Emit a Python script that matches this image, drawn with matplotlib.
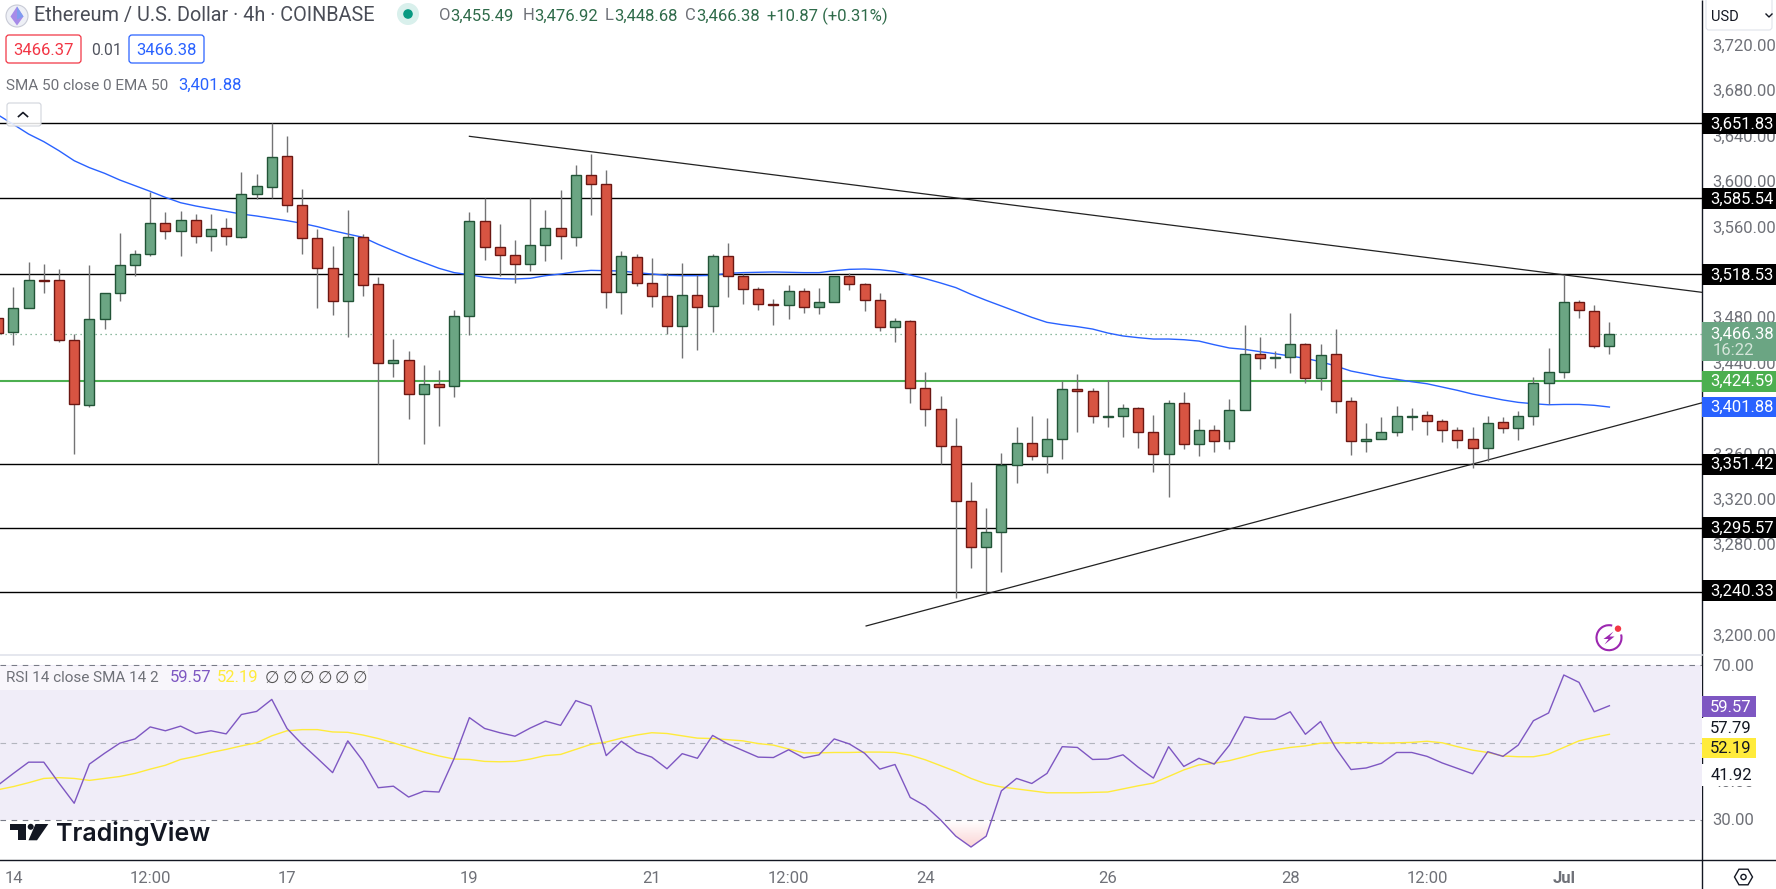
import numpy as np
import matplotlib
matplotlib.use("Agg")
import matplotlib.pyplot as plt
from matplotlib.patches import Rectangle, FancyBboxPatch, Circle, Polygon, Arc, RegularPolygon
from matplotlib.colors import LinearSegmentedColormap
from matplotlib.transforms import ScaledTranslation

plt.rcParams['font.family'] = ['Roboto', 'DejaVu Sans']

opens = [3480.0, 3467.7, 3488.8, 3513.6, 3513.5, 3460.7, 3403.4, 3479.2, 3502.1, 3526.7, 3536.4, 3563.7, 3556.7, 3566.4, 3552.3, 3559.3, 3552.0, 3589.3, 3595.4, 3622.8, 3579.6, 3550.5, 3524.1, 3495.0, 3551.4, 3510.0, 3440.4, 3443.0, 3413.1, 3421.9, 3420.1, 3481.8, 3565.5, 3542.6, 3535.5, 3527.6, 3544.4, 3559.3, 3552.0, 3606.0, 3598.1, 3503.5, 3533.8, 3510.9, 3499.4, 3473.0, 3500.3, 3490.6, 3534.7, 3517.0, 3505.6, 3492.5, 3491.5, 3503.8, 3489.7, 3494.1, 3517.0, 3510.0, 3495.9, 3472.1, 3477.4, 3418.3, 3399.8, 3367.2, 3318.8, 3278.2, 3291.5, 3350.5, 3369.9, 3358.4, 3373.4, 3417.5, 3415.7, 3393.5, 3393.7, 3400.7, 3379.6, 3360.2, 3405.1, 3369.0, 3381.3, 3371.6, 3399.0, 3448.3, 3445.5, 3445.7, 3457.1, 3427.2, 3448.3, 3406.9, 3371.6, 3373.4, 3379.6, 3393.5, 3394.5, 3389.2, 3381.3, 3373.4, 3365.5, 3388.4, 3383.1, 3393.7, 3422.7, 3432.4, 3494.1, 3486.2, 3455.49]
closes = [3467.4, 3488.8, 3513.5, 3513.2, 3460.7, 3404.3, 3479.2, 3502.1, 3526.7, 3536.4, 3563.7, 3556.7, 3566.4, 3552.3, 3558.5, 3552.3, 3589.3, 3596.3, 3621.9, 3579.6, 3550.5, 3524.1, 3495.0, 3551.4, 3509.1, 3440.4, 3443.0, 3413.1, 3421.9, 3419.8, 3481.8, 3565.5, 3542.6, 3535.5, 3527.6, 3544.4, 3559.3, 3552.3, 3606.0, 3598.1, 3503.5, 3534.7, 3510.9, 3499.4, 3473.0, 3500.3, 3489.7, 3534.7, 3517.0, 3505.6, 3492.4, 3492.2, 3503.8, 3489.7, 3494.1, 3517.0, 3510.0, 3495.9, 3472.1, 3477.4, 3418.3, 3399.8, 3367.2, 3318.8, 3278.2, 3291.5, 3350.5, 3369.9, 3358.4, 3373.4, 3417.5, 3415.7, 3393.7, 3393.9, 3400.7, 3379.6, 3360.2, 3405.1, 3369.0, 3381.3, 3371.6, 3399.0, 3448.3, 3444.8, 3445.9, 3457.1, 3427.2, 3447.4, 3406.9, 3371.6, 3373.4, 3379.6, 3393.7, 3393.9, 3389.2, 3381.3, 3372.5, 3365.5, 3387.5, 3383.1, 3393.7, 3422.7, 3432.4, 3494.1, 3487.1, 3455.3, 3466.38]
highs = [3496.0, 3507.4, 3529.7, 3527.9, 3523.5, 3465.9, 3527.0, 3502.1, 3555.2, 3540.2, 3591.6, 3573.7, 3574.6, 3572.0, 3572.0, 3568.4, 3608.7, 3607.2, 3651.8, 3640.7, 3593.7, 3558.4, 3543.8, 3575.5, 3554.3, 3516.2, 3461.5, 3451.2, 3438.9, 3434.5, 3487.4, 3573.4, 3585.8, 3563.2, 3549.1, 3585.8, 3575.5, 3593.1, 3615.1, 3624.8, 3610.7, 3539.4, 3536.7, 3533.2, 3520.0, 3528.8, 3518.2, 3536.7, 3546.4, 3519.1, 3507.6, 3496.8, 3509.4, 3506.8, 3506.8, 3517.0, 3519.7, 3511.2, 3502.4, 3480.0, 3478.6, 3432.4, 3411.3, 3392.2, 3335.8, 3312.6, 3361.4, 3384.3, 3394.0, 3392.2, 3424.8, 3431.0, 3418.6, 3425.7, 3404.2, 3401.9, 3394.9, 3408.1, 3414.8, 3391.0, 3386.0, 3408.9, 3474.2, 3463.6, 3451.2, 3484.7, 3458.3, 3457.4, 3470.3, 3410.7, 3387.8, 3392.8, 3402.8, 3401.0, 3398.4, 3391.0, 3384.0, 3384.0, 3394.0, 3392.8, 3398.4, 3428.0, 3453.6, 3518.5, 3495.9, 3491.5, 3476.92]
lows = [3458.0, 3456.8, 3488.8, 3502.7, 3459.5, 3360.5, 3402.2, 3470.6, 3495.3, 3517.6, 3535.3, 3549.9, 3535.3, 3546.7, 3539.4, 3544.6, 3551.1, 3585.2, 3585.8, 3574.0, 3536.7, 3489.4, 3483.2, 3463.9, 3500.0, 3351.4, 3428.6, 3391.6, 3369.6, 3385.5, 3411.0, 3465.1, 3531.4, 3517.6, 3511.5, 3522.0, 3530.8, 3532.3, 3544.1, 3571.1, 3489.4, 3484.1, 3508.8, 3490.3, 3465.9, 3445.4, 3452.4, 3468.3, 3499.1, 3493.0, 3487.4, 3474.4, 3479.7, 3485.0, 3484.1, 3494.1, 3505.0, 3486.8, 3469.2, 3459.5, 3405.7, 3385.5, 3351.4, 3233.9, 3260.3, 3239.2, 3256.8, 3335.2, 3355.5, 3344.0, 3356.4, 3380.2, 3388.1, 3384.6, 3375.8, 3366.1, 3344.9, 3322.9, 3365.2, 3359.0, 3362.5, 3365.2, 3399.0, 3435.4, 3436.6, 3432.2, 3423.3, 3417.2, 3396.9, 3359.9, 3362.5, 3373.4, 3376.6, 3381.9, 3377.5, 3371.3, 3366.0, 3347.8, 3354.0, 3379.3, 3373.1, 3386.3, 3404.2, 3427.1, 3480.6, 3453.6, 3448.68]
ema50 = [3659.2, 3650.9, 3642.4, 3635.7, 3627.7, 3618.9, 3612.8, 3607.8, 3601.9, 3596.9, 3591.9, 3586.6, 3581.9, 3579.0, 3576.6, 3574.3, 3571.9, 3570.2, 3568.1, 3566.1, 3563.7, 3560.8, 3557.3, 3554.3, 3551.4, 3545.2, 3539.6, 3534.1, 3529.1, 3524.1, 3520.3, 3518.5, 3516.2, 3515.0, 3514.7, 3515.3, 3517.6, 3519.1, 3521.1, 3522.3, 3522.0, 3521.7, 3520.3, 3519.1, 3517.9, 3517.6, 3517.6, 3517.9, 3519.7, 3520.3, 3520.6, 3520.9, 3520.6, 3520.3, 3520.3, 3522.0, 3523.2, 3523.5, 3522.9, 3521.4, 3518.2, 3515.0, 3511.2, 3507.1, 3501.2, 3495.9, 3490.9, 3485.9, 3480.9, 3476.5, 3474.4, 3472.7, 3470.6, 3467.1, 3464.5, 3463.0, 3461.8, 3461.8, 3461.2, 3460.0, 3456.8, 3453.9, 3452.7, 3450.7, 3448.9, 3446.8, 3444.8, 3441.8, 3438.0, 3433.6, 3431.0, 3428.3, 3426.3, 3424.2, 3422.4, 3419.5, 3416.6, 3413.3, 3410.7, 3408.1, 3406.0, 3404.8, 3403.9, 3404.2, 3404.2, 3403.4, 3401.88]
rsi = [39.1, 42.1, 45.0, 45.0, 39.6, 34.4, 44.5, 47.3, 49.9, 51.0, 54.1, 53.1, 54.3, 52.4, 53.1, 52.3, 57.3, 58.1, 61.2, 53.7, 49.6, 46.0, 42.3, 50.5, 45.3, 38.4, 38.8, 36.0, 37.5, 37.3, 46.0, 56.5, 53.7, 52.6, 51.7, 53.8, 55.6, 54.5, 60.9, 59.5, 46.7, 50.4, 47.6, 46.3, 43.3, 47.2, 46.0, 51.9, 49.7, 48.0, 46.3, 46.2, 48.2, 46.1, 46.9, 51.0, 49.7, 47.3, 43.2, 44.4, 35.9, 33.7, 30.1, 25.9, 23.1, 25.9, 37.6, 40.8, 39.5, 42.1, 49.0, 48.8, 45.7, 45.8, 46.9, 43.7, 40.9, 49.0, 43.9, 46.0, 44.5, 49.4, 56.7, 56.1, 56.1, 58.0, 52.2, 55.5, 48.6, 43.1, 43.5, 44.7, 47.5, 47.5, 46.5, 44.8, 43.4, 42.0, 47.7, 46.5, 49.4, 55.7, 57.7, 67.5, 65.6, 58.0, 59.57]
rsi_sma = [37.9, 38.7, 39.7, 40.8, 41.0, 40.8, 40.3, 40.8, 41.3, 42.1, 43.2, 44.2, 45.7, 46.5, 47.5, 48.3, 49.2, 50.0, 51.8, 53.1, 53.4, 53.4, 52.8, 52.7, 52.0, 51.1, 50.0, 48.8, 47.6, 46.6, 45.8, 45.7, 45.2, 45.1, 45.2, 45.8, 46.7, 47.0, 48.3, 49.6, 50.2, 51.2, 52.0, 52.6, 52.4, 51.8, 51.2, 51.1, 50.8, 50.5, 49.8, 49.4, 48.4, 47.4, 47.4, 47.5, 47.5, 47.6, 47.6, 47.5, 46.8, 45.6, 44.1, 42.6, 40.8, 39.4, 38.6, 38.1, 37.6, 37.1, 37.1, 37.1, 37.2, 37.3, 38.1, 38.9, 39.6, 41.3, 43.0, 44.3, 44.7, 45.4, 46.4, 47.5, 48.2, 48.8, 49.2, 49.9, 50.0, 50.0, 50.1, 49.9, 50.0, 50.1, 50.4, 50.0, 49.0, 48.1, 47.5, 46.6, 46.4, 46.4, 47.1, 48.8, 50.5, 51.4, 52.19]

levels_black = [3651.83, 3585.54, 3518.53, 3351.42, 3295.57, 3240.33]
levels_drawn = [3651.87, 3585.8, 3518.8, 3351.5, 3295.1, 3239.2]
level_green = 3424.59
last_price = 3466.38
ema_last = 3401.88
price_ticks = [3720, 3680, 3640, 3600, 3560, 3480, 3440, 3360, 3320, 3280, 3200]
rsi_ticks = [70, 40, 30]
time_ticks = [0, 9, 18, 30, 42, 51, 60, 72, 84, 93, 102]
time_labels = ['14', '12:00', '17', '19', '21', '12:00', '24', '26', '28', '12:00', 'Jul']
res_idx, res_price = [30.0, 111.06], [3640.4, 3503.0]
sup_idx, sup_price = [56.1, 111.06], [3209.0, 3405.5]

n = len(closes)
assert all(len(a) == n for a in (opens, highs, lows, ema50, rsi, rsi_sma))
idx = np.arange(n) - 1

W, H = 1776, 889
AXR = 1701.7
fig = plt.figure(figsize=(W / 100, H / 100), dpi=100, facecolor='white')

def rect(l, t, r, b):
    return [l / W, 1 - b / H, (r - l) / W, (b - t) / H]

xlim = (-13.4 / 15.2, (AXR - 13.4) / 15.2)
GRAY = '#6f7178'
FS = 12

frame = fig.add_axes([0, 0, 1, 1], zorder=0)
frame.set_xlim(0, W); frame.set_ylim(H, 0); frame.axis('off')
frame.plot([AXR, AXR], [0, H], color='#131722', lw=1.0, solid_capstyle='butt')
frame.plot([0, W], [859.5, 859.5], color='#131722', lw=1.0)
frame.plot([0, AXR], [654.5, 654.5], color='#e0e3eb', lw=1.2)

ax = fig.add_axes(rect(0, 0, AXR, 654), zorder=1)
ax.patch.set_visible(False)
ax.set_xlim(*xlim); ax.set_ylim(3184.3, 3760.5)
for s in ax.spines.values(): s.set_visible(False)
ax.set_xticks([])
ax.yaxis.tick_right()
ax.set_yticks(price_ticks)
ax.set_yticklabels([f'{v:,.2f}' for v in price_ticks])
ax.tick_params(axis='y', length=0, pad=7.6, labelsize=FS, labelcolor=GRAY)
up_shift = ScaledTranslation(0, 1.2 / 100, fig.dpi_scale_trans)
for lab in ax.get_yticklabels():
    lab.set_transform(lab.get_transform() + up_shift)

for lv in levels_drawn:
    ax.axhline(lv, color='black', lw=1.0, zorder=2)
ax.axhline(level_green, color='#4caf50', lw=1.5, zorder=2)
ax.axhline(last_price, color='#6ba583', lw=0.9, ls=(0, (1, 3)), zorder=2)
ax.plot(res_idx, res_price, color='#222222', lw=0.9, zorder=2.5)
ax.plot(sup_idx, sup_price, color='#222222', lw=0.9, zorder=2.5)
ax.plot(idx, ema50, color='#2962ff', lw=1.0, zorder=3)

o, c, hi, lo = map(np.array, (opens, closes, highs, lows))
up = c >= o
ax.vlines(idx, lo, hi, color='#737375', lw=1.0, zorder=4)
ax.bar(idx[up], (c - o)[up], bottom=o[up], width=0.66, color='#6ba583', edgecolor='#225437', linewidth=1.0, zorder=5)
ax.bar(idx[~up], (c - o)[~up], bottom=o[~up], width=0.66, color='#d75442', edgecolor='#6b1713', linewidth=1.0, zorder=5)

yt = ax.get_yaxis_transform()
TAG_R = W / AXR
PX = 576.2 / 654
TAGX = 1 + (1742 - AXR) / AXR

def tag(level, color):
    ax.add_patch(Rectangle((1, level - 10.4 * PX), TAG_R - 1, 20.8 * PX, transform=yt, color=color, clip_on=False, zorder=10, lw=0))
    ax.text(TAGX, level + 1.0 * PX, f'{level:,.2f}', transform=yt, color='white', fontsize=FS, ha='center', va='center_baseline', zorder=11)

for lv in levels_black:
    tag(lv, 'black')
tag(level_green, '#4caf50')
tag(ema_last, '#2962ff')
ax.add_patch(Rectangle((1, last_price - 26.7 * PX), TAG_R - 1, 38.7 * PX, transform=yt, color='#6ba583', clip_on=False, zorder=10, lw=0))
ax.text(TAGX, last_price + 1.0 * PX, f'{last_price:,.2f}', transform=yt, color='white', fontsize=FS, ha='center', va='center_baseline', zorder=11)
ax.text(1 + (1713 - AXR) / AXR, last_price - 14.7 * PX, '16:22', transform=yt, color='#d5e5da', fontsize=FS, ha='left', va='center_baseline', zorder=11)

rs = fig.add_axes(rect(0, 655, AXR, 859.5), zorder=1)
rs.patch.set_visible(False)
rs.set_xlim(*xlim); rs.set_ylim(19.88, 72.66)
for s in rs.spines.values(): s.set_visible(False)
rs.yaxis.tick_right()
rs.set_yticks(rsi_ticks)
rs.set_yticklabels([f'{v:.2f}' for v in rsi_ticks])
rs.tick_params(axis='y', length=0, pad=7.6, labelsize=FS, labelcolor=GRAY)
rs.set_xticks(time_ticks)
rs.set_xticklabels(time_labels)
rs.tick_params(axis='x', length=0, pad=8, labelsize=FS, labelcolor=GRAY)
rs.get_xticklabels()[-1].set_fontweight('bold')
for lab in rs.get_yticklabels():
    lab.set_transform(lab.get_transform() + ScaledTranslation(0, 0.8 / 100, fig.dpi_scale_trans))

rs.axhspan(30, 70, color='#f0edf8', lw=0, zorder=1)
rs.axhline(70, color='#787b86', lw=0.8, ls=(0, (5, 5)), zorder=2)
rs.axhline(30, color='#787b86', lw=0.8, ls=(0, (5, 5)), zorder=2)
rs.axhline(50, color='#b2b5be', lw=0.8, ls=(0, (5, 5)), zorder=2)

rv = np.array(rsi)
under = rs.fill_between(idx, rv, 30, where=rv < 30, interpolate=True, color='none', lw=0)
grad = rs.imshow(np.linspace(0, 1, 64).reshape(-1, 1), extent=[xlim[0], xlim[1], 30, rv.min()], aspect='auto', origin='lower',
                 cmap=LinearSegmentedColormap.from_list('os', ['#ffffff', '#fbd5d5']), zorder=1.5)
grad.set_clip_path(under.get_paths()[0], transform=rs.transData)
rs.set_xlim(*xlim); rs.set_ylim(19.88, 72.66)

rs.plot(idx, rsi_sma, color='#ffeb3b', lw=1.0, zorder=3)
rs.plot(idx, rsi, color='#7e57c2', lw=1.0, zorder=4)

yr = rs.get_yaxis_transform()
RPX = 52.78 / 204.5
R_TAG = (1756 - AXR) / AXR

def rtag(pos, txt, color, tcolor, h=20.8):
    rs.add_patch(FancyBboxPatch((1, pos - h / 2 * RPX), R_TAG, h * RPX, boxstyle='square,pad=0', transform=yr, color=color, clip_on=False, zorder=10, lw=0))
    rs.text(1 + (1731 - AXR) / AXR, pos + 0.8 * RPX, txt, transform=yr, color=tcolor, fontsize=FS, ha='center', va='center_baseline', zorder=11)

rsi_tag_pos = 59.37
sma_tag_pos = 48.66
upper_band_pos = 53.8
lower_band_pos = 41.8
rtag(upper_band_pos, '57.79', 'white', '#131722')
rtag(lower_band_pos, '41.92', 'white', '#131722', h=22)
rtag(rsi_tag_pos, f'{rsi[-1]:.2f}', '#7e57c2', 'white')
rtag(sma_tag_pos, f'{rsi_sma[-1]:.2f}', '#ffeb3b', '#131722')

ui = fig.add_axes([0, 0, 1, 1], zorder=5)
ui.patch.set_visible(False)
ui.set_xlim(0, W); ui.set_ylim(H, 0); ui.axis('off')

def T(x, y, s, color=GRAY, size=11, ha='left', **k):
    return ui.text(x, y, s, color=color, fontsize=size, ha=ha, va='center_baseline', **k)

ui.add_patch(Circle((17, 16), 11, fc='#eef0f6', ec='#c8cbd6', lw=0.8))
ui.add_patch(Polygon([(17, 6.5), (23.5, 16.5), (17, 25.5), (10.5, 16.5)], fc='#a78be8', ec='none'))
ui.add_patch(Polygon([(17, 6.5), (23.5, 16.5), (17, 19.5)], fc='#7f9cf0', ec='none'))
T(34, 14, 'Ethereum / U.S. Dollar · 4h · COINBASE', '#4a4d57', 14.3)
ui.add_patch(Circle((408, 14), 11, fc='#d9f0ec', ec='none'))
ui.add_patch(Circle((408, 14), 4.8, fc='#089981', ec='none'))

ohlc_green = '#2f6b4a'
for lab, val, x in [('O', '3,455.49', 439), ('H', '3,476.92', 522.7), ('L', '3,448.68', 605), ('C', '3,466.38', 685)]:
    T(x, 14.5, lab, GRAY, FS)
    T(x + (11.7 if lab != 'L' else 9), 14.5, val, ohlc_green, FS)
T(766.7, 14.5, '+10.87 (+0.31%)', ohlc_green, FS)

ui.add_patch(FancyBboxPatch((6, 35), 75, 28, boxstyle='round,pad=0,rounding_size=3', fc='white', ec='#f23645', lw=0.9))
T(43.5, 49, '3466.37', '#f23645', FS, ha='center')
T(91, 49, '0.01', '#50535e', 11.3)
ui.add_patch(FancyBboxPatch((129, 35), 75, 28, boxstyle='round,pad=0,rounding_size=3', fc='white', ec='#2962ff', lw=0.9))
T(166.5, 49, '3466.38', '#2962ff', FS, ha='center')
T(6, 84, 'SMA 50 close 0 EMA 50', GRAY, 11)
T(178, 84, '3,401.88', '#2962ff', FS)

ui.add_patch(FancyBboxPatch((7, 103), 34, 23, boxstyle='round,pad=0,rounding_size=2.5', fc=(1, 1, 1, 0.85), ec='#d1d4dc', lw=0.8))
ui.plot([18.5, 23, 27.5], [116.5, 112.5, 116.5], color='#131722', lw=1.2)

ui.add_patch(FancyBboxPatch((1706, -4), 66, 34, boxstyle='round,pad=0,rounding_size=3', fc='white', ec='#e0e3eb', lw=0.8))
T(1711, 15.5, 'USD', '#131722', 10.5)
ui.plot([1766, 1769, 1772], [14, 17, 14], color='#131722', lw=1.0)

ui.add_patch(Arc((1609, 637.7), 25, 25, theta1=-15, theta2=285, color='#9c27b0', lw=1.5))
ui.add_patch(Polygon([(1613.5, 631.5), (1603.5, 639), (1608.5, 639), (1604.5, 644.5), (1614.5, 636.5), (1609.5, 636.5)], fc='#9c27b0', ec='none'))
ui.add_patch(Circle((1618, 628.7), 3.2, fc='#f23645', ec='none'))

ui.add_patch(Rectangle((0, 665.5), 368, 24.5, fc=(1, 1, 1, 0.55), ec='none'))
T(6, 676.5, 'RSI 14 close SMA 14 2', GRAY, 11)
T(170, 676.5, '59.57', '#7e57c2', FS)
T(217, 676.5, '52.19', '#ffeb3b', FS)
for x in [265, 283, 300, 318, 335, 353]:
    T(x, 676.5, '∅', '#555555', 12)

ui.add_patch(Polygon([(10.3, 824), (25.7, 824), (25.7, 840.3), (17.7, 840.3), (17.7, 829.5), (10.3, 829.5)], fc='#131722', ec='none'))
ui.add_patch(Circle((30.7, 826.8), 3, fc='#131722', ec='none'))
ui.add_patch(Polygon([(35.5, 824), (48.3, 824), (37, 840.3), (28.5, 840.3)], fc='#131722', ec='none'))
ui.text(56, 841.3, 'TradingView', color='#131722', fontsize=18, family=['Inter', 'DejaVu Sans'], fontweight='semibold', ha='left', va='baseline')

ui.add_patch(RegularPolygon((1743.5, 877), 6, radius=9, orientation=np.pi / 6, fc='none', ec='#131722', lw=1.0))
ui.add_patch(Circle((1743.5, 877), 2.6, fc='none', ec='#131722', lw=1.0))

fig.savefig('out.png', dpi=100)
